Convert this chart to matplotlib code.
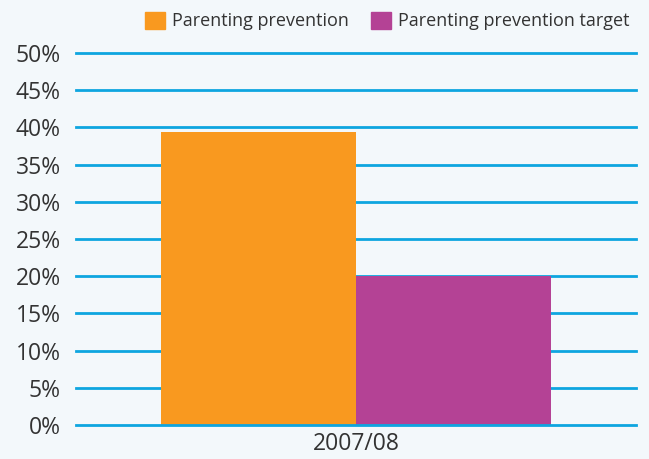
import matplotlib
matplotlib.use("Agg")
import matplotlib.pyplot as plt
from matplotlib.patches import Patch

categories = ["2007/08"]
series_names = ["Parenting prevention", "Parenting prevention target"]
prevention = [39.4]
target = [20.0]
yticks = [0, 5, 10, 15, 20, 25, 30, 35, 40, 45, 50]
colors = ["#f9991f", "#b44295"]
bg = "#f3f8fb"
grid_c = "#0ea5e0"
text_c = "#333333"

plt.rcParams['font.family'] = ['Open Sans', 'DejaVu Sans']

fig = plt.figure(figsize=(6.49, 4.59), dpi=100, facecolor=bg)
ax = fig.add_axes([0.117, 0.074, 0.863, 0.8105], facecolor=bg)

w = 0.348
x = list(range(len(categories)))
ax.bar([i - w / 2 for i in x], prevention, width=w, color=colors[0], zorder=3)
ax.bar([i + w / 2 for i in x], target, width=w, color=colors[1], zorder=3)

ax.set_xlim(-0.5, 0.5)
ax.set_ylim(0, 50)
ax.set_yticks(yticks)
ax.set_yticklabels([f"{v}%" for v in yticks])
ax.set_xticks(x)
ax.set_xticklabels(categories)
for v in yticks:
    ax.axhline(v, color=grid_c, lw=2.0, zorder=2 if v > 0 else 4, clip_on=False)
for s in ax.spines.values():
    s.set_visible(False)
ax.tick_params(axis='y', length=0, pad=11, labelsize=16.5, labelcolor=text_c)
ax.tick_params(axis='x', length=0, pad=5, labelsize=16.5, labelcolor=text_c)

handles = [Patch(color=c, label=n) for c, n in zip(colors, series_names)]
fig.legend(handles=handles, loc='upper right', bbox_to_anchor=(0.995, 1.01), ncol=2,
           frameon=False, fontsize=13, handlelength=1.1, handleheight=1.1,
           handletextpad=0.4, columnspacing=1.2, labelcolor=text_c)

fig.savefig("out.png", dpi=100, facecolor=bg)
